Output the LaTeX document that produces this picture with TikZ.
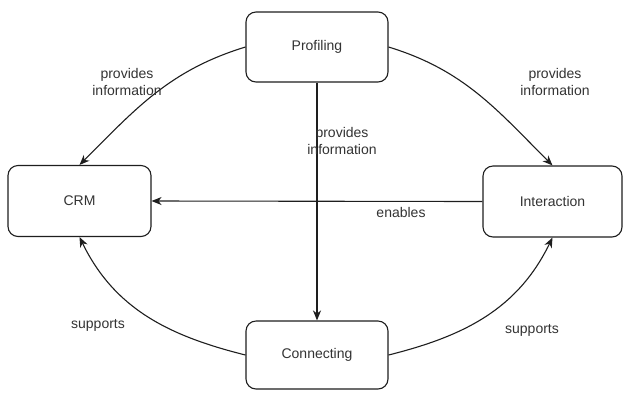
\documentclass[tikz,border=0pt]{standalone}
\usepackage{fontspec}
\setmainfont{Liberation Sans}
\usetikzlibrary{arrows.meta}
\definecolor{linec}{HTML}{1E1E1E}
\definecolor{textc}{HTML}{333333}
\begin{document}
\begin{tikzpicture}[x=1pt,y=-1pt,
  box/.style={draw=linec, line width=1.1pt, rounded corners=10pt, fill=white,
    minimum width=142pt, minimum height=70pt, inner sep=0pt, text=textc,
    font=\fontsize{14}{17}\selectfont},
  lbl/.style={text=textc, font=\fontsize{14}{17.5}\selectfont, align=center, inner sep=0pt},
  conn/.style={draw=linec, line width=1.1pt, -{Stealth[length=10pt,width=8pt,inset=3pt]}}
]
\useasboundingbox (0,0) rectangle (623,392);
\node[box] (prof) at (317,47) {Profiling};
\node[box, minimum width=143pt, minimum height=71pt] (crm) at (79.5,201) {CRM};
\node[box, minimum width=139pt, minimum height=71pt] (inter) at (552.5,201.5) {Interaction};
\node[box, minimum height=68pt] (conn) at (317,355) {Connecting};

\draw[conn] (prof.west) to[out=197,in=45] (crm.north);
\draw[conn] (prof.east) to[out=-17,in=135] (inter.north);
\draw[conn] (prof.south) -- (conn.north);
\draw[conn] (inter.west) -- (crm.east);
\draw[conn] (conn.west) to[out=166,in=-64] (crm.south);
\draw[conn] (conn.east) to[out=14,in=-116] (inter.south);

\node[lbl] (l1) at (127,82) {provides\\information};
\node[lbl] (l2) at (555,82) {provides\\information};
\node[lbl] (l3) at (342,141) {provides\\information};
\node[lbl] (l4) at (401,212) {enables};
\node[lbl] (l5) at (98,325) {supports};
\node[lbl] (l6) at (532,330) {supports};
\end{tikzpicture}
\end{document}
